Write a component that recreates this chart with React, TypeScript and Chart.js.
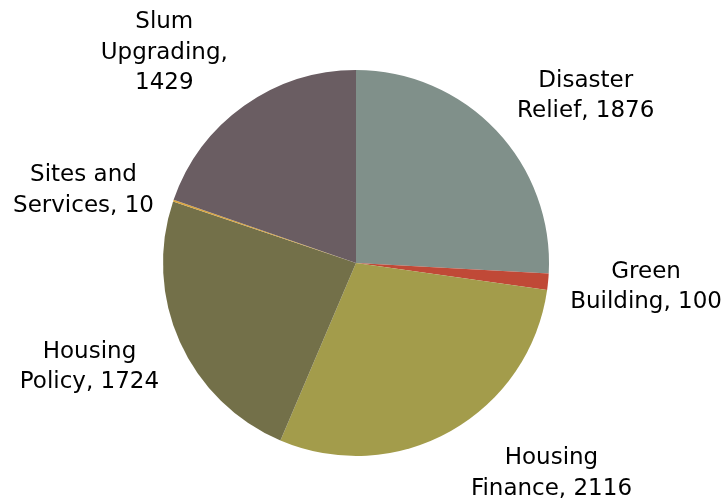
import React, { useEffect, useRef } from "react";
import { Chart, registerables } from "chart.js";

Chart.register(...registerables);

const categories = [
  "Disaster Relief",
  "Green Building",
  "Housing Finance",
  "Housing Policy",
  "Sites and Services",
  "Slum Upgrading",
];
const values = [1876, 100, 2116, 1724, 10, 1429];
const colors = ["#80908a", "#c04937", "#a39c4b", "#737049", "#dba53e", "#6a5d62"];
// wrapped label lines ("{v}" replaced by the value)
const labelTemplates = [
  ["Disaster", "Relief, {v}"],
  ["Green", "Building, {v}"],
  ["Housing", "Finance, {v}"],
  ["Housing", "Policy, {v}"],
  ["Sites and", "Services, {v}"],
  ["Slum", "Upgrading,", "{v}"],
];
// label placement: angle shift (deg) from slice mid-angle, distance as fraction of radius
const labelAngleShift = [7.0, -1.4, -13.8, 3.4, -3.4, -6.5];
const labelDistance = [1.48, 1.507, 1.478, 1.477, 1.465, 1.486];

const labelPlugin = {
  id: "outsideLabels",
  afterDatasetsDraw(chart: any) {
    const ctx = chart.ctx;
    const meta = chart.getDatasetMeta(0);
    ctx.save();
    ctx.font = "23px 'DejaVu Sans'";
    ctx.fillStyle = "#000";
    ctx.textAlign = "center";
    ctx.textBaseline = "middle";
    const lh = 30.5;
    meta.data.forEach((arc: any, i: number) => {
      const mid = (arc.startAngle + arc.endAngle) / 2 + (labelAngleShift[i] * Math.PI) / 180;
      const d = arc.outerRadius * labelDistance[i];
      const cx = arc.x + d * Math.cos(mid);
      const cy = arc.y + d * Math.sin(mid) + 3;
      const lines = labelTemplates[i].map((t) => t.replace("{v}", String(values[i])));
      const y0 = cy - ((lines.length - 1) * lh) / 2;
      lines.forEach((ln, k) => ctx.fillText(ln, cx, y0 + k * lh));
    });
    ctx.restore();
  },
};

export default function App() {
  const ref = useRef<HTMLCanvasElement>(null);
  useEffect(() => {
    if (!ref.current) return;
    const chart = new Chart(ref.current, {
      type: "pie",
      data: {
        labels: categories,
        datasets: [
          {
            data: values,
            backgroundColor: colors,
            borderWidth: 0,
          },
        ],
      },
      options: {
        responsive: false,
        animation: false,
        layout: { padding: { left: 163, right: 178, top: 70, bottom: 45 } },
        plugins: {
          legend: { display: false },
          tooltip: { enabled: false },
          title: { display: false },
        },
      },
      plugins: [labelPlugin],
    });
    return () => chart.destroy();
  }, []);
  return (
    <div style={{ position: "absolute", left: 0, top: 0, width: 727, height: 501, background: "#fff" }}>
      <canvas ref={ref} width={727} height={501} style={{ display: "block" }} />
    </div>
  );
}
